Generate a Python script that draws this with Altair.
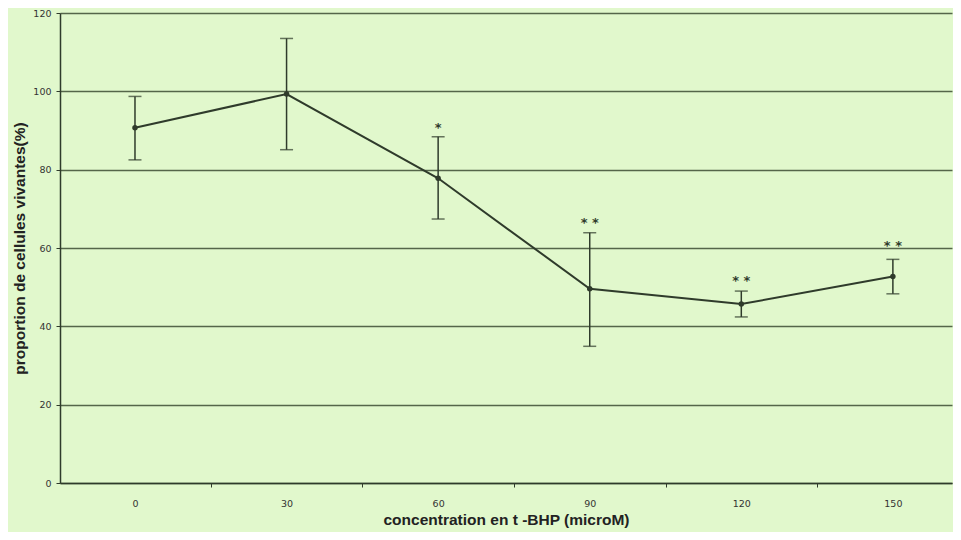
import altair as alt
import pandas as pd

# data
conc = [0, 30, 60, 90, 120, 150]
mean = [90.7, 99.3, 77.8, 49.6, 45.7, 52.7]
low = [82.5, 85.1, 67.4, 34.9, 42.4, 48.3]
high = [98.7, 113.5, 88.4, 63.9, 49.0, 57.1]
stars = ["", "", "*", "* *", "* *", "* *"]
star_y = [None, None, 90.6, 66.3, 51.6, 60.5]

df = pd.DataFrame({"conc": conc, "mean": mean, "low": low, "high": high})
sdf = pd.DataFrame({"conc": conc, "star": stars, "sy": star_y}).dropna()

BG = "#E1F8CC"
GRID = "#55664A"
INK = "#2F3B2B"

xscale = alt.Scale(domain=[-14.84, 161.7], nice=False, zero=False)
yscale = alt.Scale(domain=[0, 120], nice=False)

xaxis = alt.Axis(
    values=[0, 15, 30, 45, 60, 75, 90, 105, 120, 135, 150],
    labelExpr="datum.value % 30 === 0 ? datum.label : ''",
    tickOpacity={"condition": {"test": "datum.value % 30 === 0", "value": 0}, "value": 1},
    tickSize=4, tickColor=INK, domainColor=INK, domainWidth=1.5,
    grid=False, labelFont="DejaVu Sans", labelFontSize=9.5, labelColor="#333",
    labelPadding=11,
    title="concentration en t -BHP (microM)", titleFont="Liberation Sans",
    titleFontSize=15.5, titleFontWeight="bold", titleColor="#222", titlePadding=5,
)
yaxis = alt.Axis(
    values=[0, 20, 40, 60, 80, 100, 120],
    grid=True, gridColor=GRID, gridWidth=1.3, gridOpacity=1,
    tickSize=4, tickColor=INK, domainColor=INK, domainWidth=1.5,
    labelFont="DejaVu Sans", labelFontSize=9.5, labelColor="#333", labelPadding=5,
    title="proportion de cellules vivantes(%)", titleFont="Liberation Sans",
    titleFontSize=15.5, titleFontWeight="bold", titleColor="#222", titlePadding=5,
)

base = alt.Chart(df)

line = base.mark_line(color=INK, strokeWidth=2).encode(
    x=alt.X("conc:Q", scale=xscale, axis=xaxis),
    y=alt.Y("mean:Q", scale=yscale, axis=yaxis),
)
pts = base.mark_circle(color=INK, size=30, opacity=1).encode(
    x=alt.X("conc:Q", scale=xscale), y=alt.Y("mean:Q", scale=yscale)
)
bars = base.mark_rule(color=INK, strokeWidth=1.5).encode(
    x=alt.X("conc:Q", scale=xscale), y=alt.Y("low:Q", scale=yscale), y2="high:Q"
)
cap_lo = base.mark_tick(color=INK, orient="horizontal", size=13, thickness=1.5).encode(
    x=alt.X("conc:Q", scale=xscale), y=alt.Y("low:Q", scale=yscale)
)
cap_hi = base.mark_tick(color=INK, orient="horizontal", size=13, thickness=1.5).encode(
    x=alt.X("conc:Q", scale=xscale), y=alt.Y("high:Q", scale=yscale)
)
star_txt = alt.Chart(sdf).mark_text(color=INK, fontSize=13, font="DejaVu Sans", fontWeight="bold", baseline="middle").encode(
    x=alt.X("conc:Q", scale=xscale), y=alt.Y("sy:Q", scale=yscale), text="star:N"
)

chart = alt.layer(line, bars, cap_lo, cap_hi, pts, star_txt).properties(
    width=892, height=470,
    background=BG,
    autosize=alt.AutoSizeParams(type="none"),
    padding={"left": 52, "top": 5, "right": 1, "bottom": 49},
).configure_view(stroke=None, fill=BG)

chart.save("out.html", embed_options={"renderer": "svg", "actions": False})
